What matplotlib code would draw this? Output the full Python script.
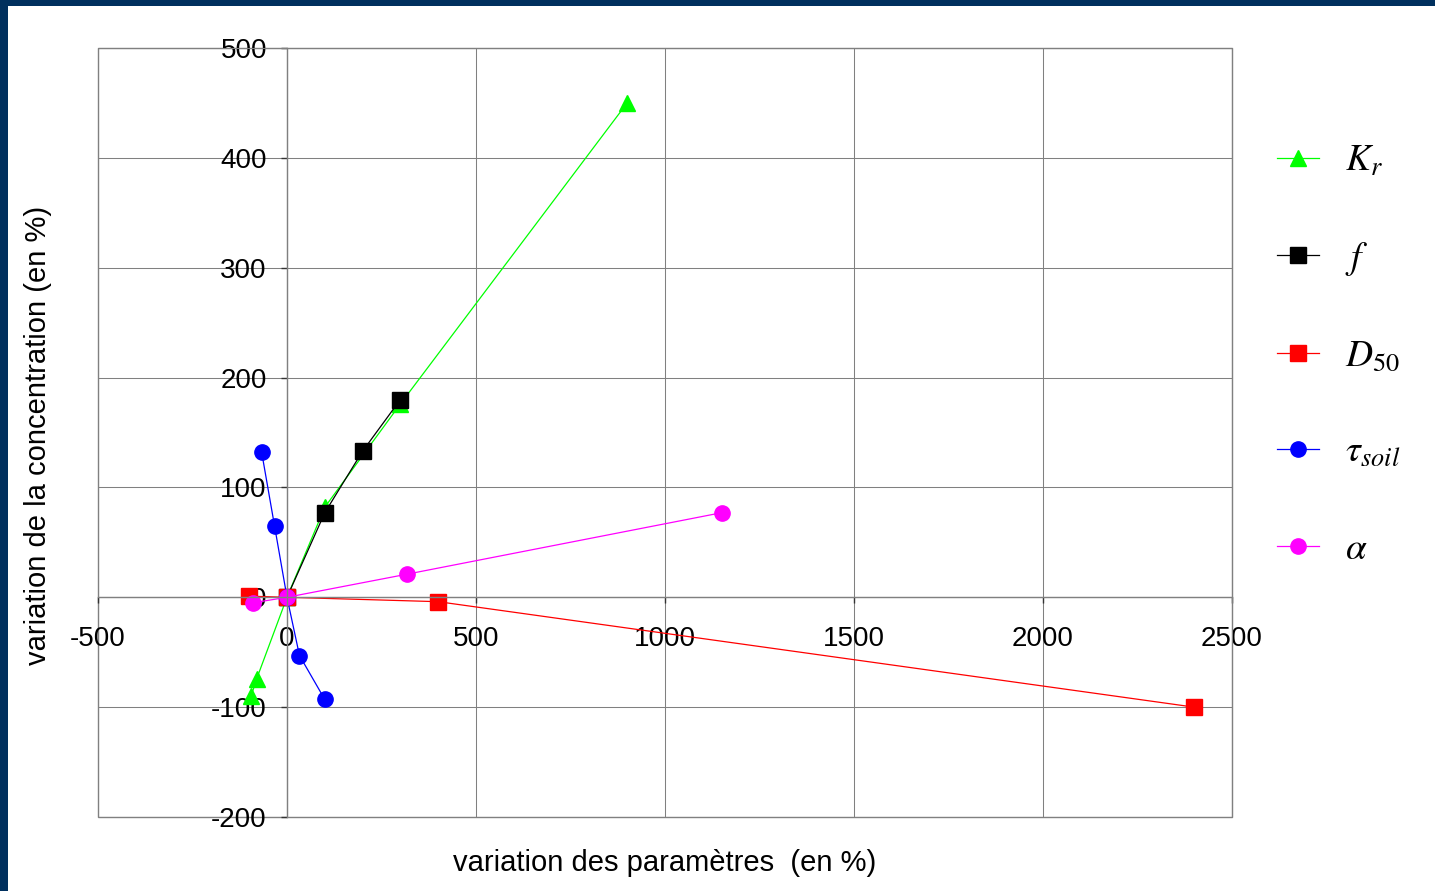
import matplotlib
matplotlib.use('Agg')
import matplotlib.pyplot as plt
from matplotlib.patches import Rectangle

# values (variation in %)
kr_x = [-95, -80, 0, 100, 300, 900]
kr_y = [-90, -74, 0, 82, 176, 450]

f_x = [0, 100, 200, 300]
f_y = [0, 77, 133, 180]

d50_x = [-100, 0, 400, 2400]
d50_y = [1, 0, -4, -100]

tau_x = [-67, -33, 0, 33, 100]
tau_y = [132, 65, 0, -53, -93]

alpha_x = [-90, 0, 317, 1150]
alpha_y = [-5, 0, 21, 77]

labels = [r'$K_r$', r'$f$', r'$D_{\mathit{50}}$', r'$\tau_{soil}$', r'$\alpha$']

x_ticks = [-500, 0, 500, 1000, 1500, 2000, 2500]
y_ticks = [-200, -100, 0, 100, 200, 300, 400, 500]

plt.rcParams['font.family'] = ['Liberation Sans', 'DejaVu Sans']
plt.rcParams['mathtext.fontset'] = 'stix'
plt.rcParams['axes.unicode_minus'] = False

W, H = 1435, 891
fig = plt.figure(figsize=(W / 100, H / 100), dpi=100, facecolor='#00305E')
# white page inside the navy frame
fig.patches.append(Rectangle((8 / W, 0), 1, 1 - 6 / H, transform=fig.transFigure,
                             facecolor='white', edgecolor='none', zorder=-10))

ax = fig.add_axes([98 / W, 1 - 817 / H, (1232 - 98) / W, (817 - 48) / H])
ax.set_facecolor('white')
ax.patch.set_edgecolor('#808080')
ax.patch.set_linewidth(1.0)

ax.set_xlim(-500, 2500)
ax.set_ylim(-200, 500)
ax.set_xticks(x_ticks)
ax.set_yticks(y_ticks)
ax.grid(True, color='#808080', linewidth=0.75)
ax.set_axisbelow(True)

for side in ['left', 'bottom']:
    ax.spines[side].set_position(('data', 0))
    ax.spines[side].set_color('#808080')
    ax.spines[side].set_linewidth(1.0)
for side in ['top', 'right']:
    ax.spines[side].set_color('#808080')
    ax.spines[side].set_linewidth(0.75)

ax.tick_params(axis='y', direction='out', length=4.5, width=1, color='#333333',
               labelsize=20, pad=10)
ax.tick_params(axis='x', direction='out', length=4.5, width=1, color='#333333',
               labelsize=20, pad=16)

kw = dict(linewidth=0.9, markersize=11)
l1, = ax.plot(kr_x, kr_y, color='#00FF00', marker='^', **kw)
l2, = ax.plot(f_x, f_y, color='black', marker='s', **kw)
l3, = ax.plot(d50_x, d50_y, color='#FF0000', marker='s', **kw)
l4, = ax.plot(tau_x, tau_y, color='#0000FF', marker='o', **kw)
l5, = ax.plot(alpha_x, alpha_y, color='#FF00FF', marker='o', **kw)
for ln in (l1, l2, l3, l4, l5):
    ln.set_clip_on(False)

fig.legend([l1, l2, l3, l4, l5], labels, loc='center left',
           bbox_to_anchor=(1277 / W, 1 - 355 / H), bbox_transform=fig.transFigure,
           frameon=False, fontsize=27, handlelength=1.12, handletextpad=0.7,
           labelspacing=1.61, borderpad=0, borderaxespad=0)

fig.text(665 / W, 1 - 863 / H, 'variation des paramètres  (en %)',
         ha='center', va='center', fontsize=21)
fig.text(38 / W, 1 - 435 / H, 'variation de la concentration (en %)',
         ha='center', va='center', rotation=90, fontsize=21)

fig.savefig('out.png', dpi=100, facecolor=fig.get_facecolor())
